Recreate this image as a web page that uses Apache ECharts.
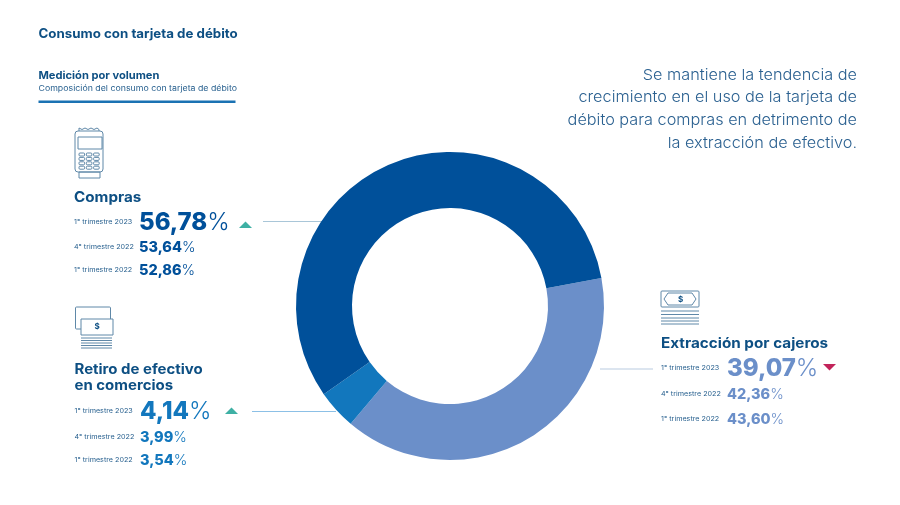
<!DOCTYPE html>
<html><head><meta charset="utf-8">
<script src="https://cdn.jsdelivr.net/npm/echarts@6/dist/echarts.min.js"></script>
<style>html,body{margin:0;padding:0;background:#fff}#c{width:900px;height:505px}</style></head>
<body><div id="c"></div>
<script>
const categories = ['Extracción por cajeros', 'Retiro de efectivo en comercios', 'Compras'];
const sliceValues = [39.07, 4.14, 56.78];
const periods = ['1° trimestre 2023', '4° trimestre 2022', '1° trimestre 2022'];
const comprasValues = [56.78, 53.64, 52.86];
const retiroValues = [4.14, 3.99, 3.54];
const cajerosValues = [39.07, 42.36, 43.60];
const title = 'Consumo con tarjeta de débito';
const subtitle = 'Medición por volumen';
const subsubtitle = 'Composición del consumo con tarjeta de débito';
const noteLines = ['Se mantiene la tendencia de', 'crecimiento en el uso de la tarjeta de', 'débito para compras en detrimento de', 'la extracción de efectivo.'];

const F = 'Inter, "Open Sans", sans-serif';
const NAVY = '#0d4f83', DARK = '#00509a', MID = '#1277bd', LIGHT = '#6b8fc9', LINE='#5f88a8';
const g = [];
const T = (x, y, text, size, color, weight, align, sx) => g.push({type:'text', x, y, scaleX:sx||1, silent:true,
  style:{text, fontFamily:F, fontSize:size, fill:color, fontWeight:weight||400, align:align||'left', verticalAlign:'middle'}});
const fmt = v => v.toFixed(2).replace('.', ',');
function row(x, vx, y, period, v, size, color){
  T(x, y, period, 6.6, '#2a6290', 400, 'left', 1.09);
  g.push({type:'text', x:vx, y:y+1, silent:true, style:{
    text:'{a|'+fmt(v)+'}{b|%}', verticalAlign:'middle',
    rich:{a:{fontFamily:F, fontSize:size, fontWeight:800, fill:color},
          b:{fontFamily:F, fontSize:size, fontWeight:300, fill:color}}}});
}
function block(x, vx, ys, values, color){
  values.forEach((v,i)=>row(x, vx, ys[i], periods[i], v, i===0?24:14.5, color));
}
const R=(x,y,w,h,r)=>g.push({type:'rect',silent:true,shape:{x,y,width:w,height:h,r:r||0},style:{fill:'none',stroke:LINE,lineWidth:1}});
const L=(x1,y1,x2,y2,c,w)=>g.push({type:'line',silent:true,shape:{x1,y1,x2,y2},style:{stroke:c||LINE,lineWidth:w||1}});
const TRI=(pts,c)=>g.push({type:'polygon',silent:true,shape:{points:pts},style:{fill:c}});

T(38.5, 34.5, title, 12.8, NAVY, 700, 'left', 1.04);
T(38.5, 75.5, subtitle, 10.8, NAVY, 700, 'left', 1.03);
T(38.5, 88.5, subsubtitle, 8.1, '#2a6290', 400, 'left', 1.085);
g.push({type:'rect',silent:true,shape:{x:38.5,y:100.5,width:197,height:2.6},style:{fill:'#1a72b3'}});
noteLines.forEach((s,i)=>T(857, 75+i*22.8, s, 15, '#2a6090', 300, 'right', 1.085));

T(74, 197.5, categories[2], 14.2, NAVY, 700, 'left', 1.07);
block(74, 139, [222,247,270], comprasValues, DARK);
T(74.5, 370, 'Retiro de efectivo', 14, NAVY, 700, 'left', 1.07);
T(74.5, 385.5, 'en comercios', 14, NAVY, 700, 'left', 1.07);
block(74.5, 140, [411,437,460], retiroValues, MID);
T(661, 343.5, categories[0], 14, NAVY, 700, 'left', 1.09);
block(661, 727, [368,394,419], cajerosValues, LIGHT);

TRI([[239,228],[252,228],[245.5,221.5]],'#3eb0a4');
TRI([[225,414],[238,414],[231.5,407.5]],'#3eb0a4');
TRI([[823,364],[836,364],[829.5,370.5]],'#c2245a');
L(263,221.5,325,221.5,'#a9c6d8');
L(252,411.5,336,411.5,'#8cc0e6');
L(600,369,653,369,'#b9cbe0');

// icon: payment terminal
R(75,131,28,41,3); R(78,137,24,12,0); R(79,172,21,6,0);
for(let r=0;r<4;r++)for(let c=0;c<3;c++)R(79+c*7.3,153+r*4.4,5.6,3,1);
g.push({type:'polyline',silent:true,shape:{points:[[79,131],[79,128],[82,129.5],[85,128],[88,129.5],[91,128],[94,129.5],[97,128],[99,129.5],[99,131]]},style:{fill:'none',stroke:LINE,lineWidth:1}});
// icon: bills in store
R(75.5,307,35,22,1); g.push({type:'rect',silent:true,z:5,shape:{x:81,y:319,width:32,height:16},style:{fill:'#fff',stroke:LINE,lineWidth:1}});
g.push({type:'text',z:6,silent:true,x:97,y:327,style:{text:'$',fontFamily:F,fontSize:8,fontWeight:700,fill:NAVY,align:'center',verticalAlign:'middle'}});
[338,340.5,343,345.5,348].forEach(y=>L(81,y,112,y));
// icon: bills at ATM
R(661,291,38,16,1);
g.push({type:'polygon',silent:true,shape:{points:[[668,293],[692,293],[696,299],[692,305],[668,305],[664,299]]},style:{fill:'none',stroke:LINE,lineWidth:1}});
g.push({type:'text',silent:true,x:680.5,y:299.5,style:{text:'$',fontFamily:F,fontSize:8,fontWeight:700,fill:NAVY,align:'center',verticalAlign:'middle'}});
[311,314.5,318,321,324].forEach(y=>L(661,y,699,y));

const chart = echarts.init(document.getElementById('c'), null, {renderer:'canvas'});
chart.setOption({
  animation:false, backgroundColor:'#fff',
  color:[LIGHT, MID, DARK],
  series:[{type:'pie', center:[450,306], radius:[98,154], startAngle:10.5, clockwise:true, silent:true, z:1,
    label:{show:false}, labelLine:{show:false},
    data:categories.map((name,i)=>({name, value:sliceValues[i]}))}],
  graphic:g
});
</script></body></html>
